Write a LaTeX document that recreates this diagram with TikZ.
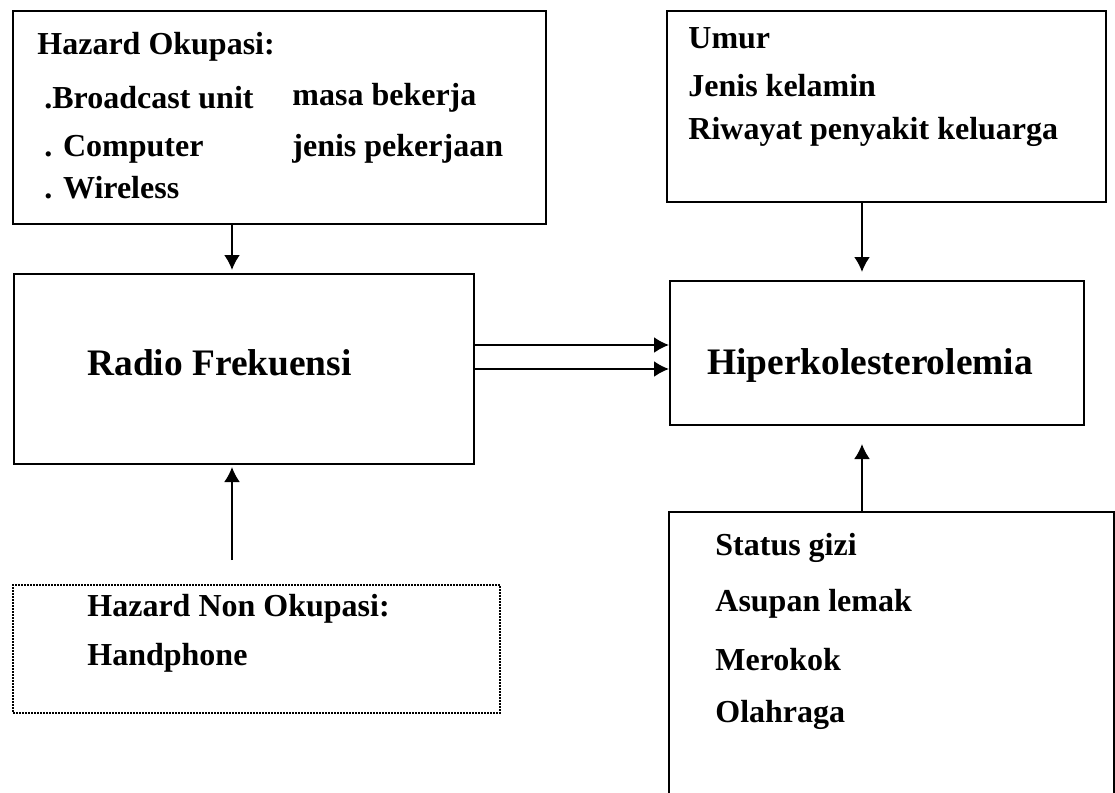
\documentclass[tikz,border=0pt]{standalone}
\usepackage{fontspec}
\setmainfont{Liberation Serif}
\usetikzlibrary{arrows.meta}

\tikzset{
  box/.style={draw,line width=1pt,inner sep=0pt,anchor=north west},
  dotbox/.style={box,dash pattern=on 1pt off 0.5pt},
  itemtxt/.style={anchor=west,inner sep=0pt,font=\fontsize{16}{19}\selectfont\bfseries},
  bigtxt/.style={anchor=west,inner sep=0pt,font=\fontsize{18.7}{22}\selectfont\bfseries},
  arr/.style={line width=1pt,-{Latex[length=7.5pt,width=8pt]}}
}

\begin{document}
\begin{tikzpicture}[x=0.5pt,y=-0.5pt]
  % Boundary
  \path[use as bounding box] (0,0) rectangle (1115,793);
  % Boxes
  \node[box,minimum width=266.5pt,minimum height=106.5pt] (okup) at (12,10) {};
  \node[box,minimum width=219.5pt,minimum height=95.5pt] (umur) at (666,10) {};
  \node[box,minimum width=230pt,minimum height=95pt] (rf) at (13,273) {};
  \node[box,minimum width=207pt,minimum height=72pt] (hip) at (669,280) {};
  \node[dotbox,minimum width=243.5pt,minimum height=64pt] (non) at (12,584) {};
  \node[box,minimum width=222.5pt,minimum height=147pt] (stat) at (668,511) {};
  % Texts
  \node[itemtxt] (ok0) at (37,47) {Hazard Okupasi:};
  \node[itemtxt] (ok1) at (44,98) {.Broadcast unit};
  \node[itemtxt] (ok2) at (44,149) {. Computer};
  \node[itemtxt] (ok3) at (44,188) {. Wireless};
  \node[itemtxt] (ok4) at (292,98) {masa bekerja};
  \node[itemtxt] (ok5) at (292,149) {jenis pekerjaan};
  \node[itemtxt] (um0) at (688,38) {Umur};
  \node[itemtxt] (um1) at (688,86) {Jenis kelamin};
  \node[itemtxt] (um2) at (688,132) {Riwayat penyakit keluarga};
  \node[bigtxt] (rft) at (87,363) {Radio Frekuensi};
  \node[bigtxt] (hipt) at (707,366) {Hiperkolesterolemia};
  \node[itemtxt] (no0) at (87,609) {Hazard Non Okupasi:};
  \node[itemtxt] (no1) at (87,658) {Handphone};
  \node[itemtxt] (st0) at (715,548) {Status gizi};
  \node[itemtxt] (st1) at (715,604) {Asupan lemak};
  \node[itemtxt] (st2) at (715,660) {Merokok};
  \node[itemtxt] (st3) at (715,715) {Olahraga};
  % Arrows
  \coordinate (ax) at (232,0);
  \coordinate (bx) at (862,0);
  \coordinate (ay1) at (0,345);
  \coordinate (ay2) at (0,369);
  \coordinate (nstart) at (232,560);
  \draw[arr,shorten >=1.5pt] (okup.south -| ax) -- (rf.north -| ax);
  \draw[arr,shorten >=4pt] (umur.south -| bx) -- (hip.north -| bx);
  \draw[arr] (rf.east |- ay1) -- (hip.west |- ay1);
  \draw[arr] (rf.east |- ay2) -- (hip.west |- ay2);
  \draw[arr,shorten >=1pt] (nstart) -- (rf.south -| ax);
  \draw[arr,shorten >=9pt] (stat.north -| bx) -- (hip.south -| bx);
\end{tikzpicture}
\end{document}
